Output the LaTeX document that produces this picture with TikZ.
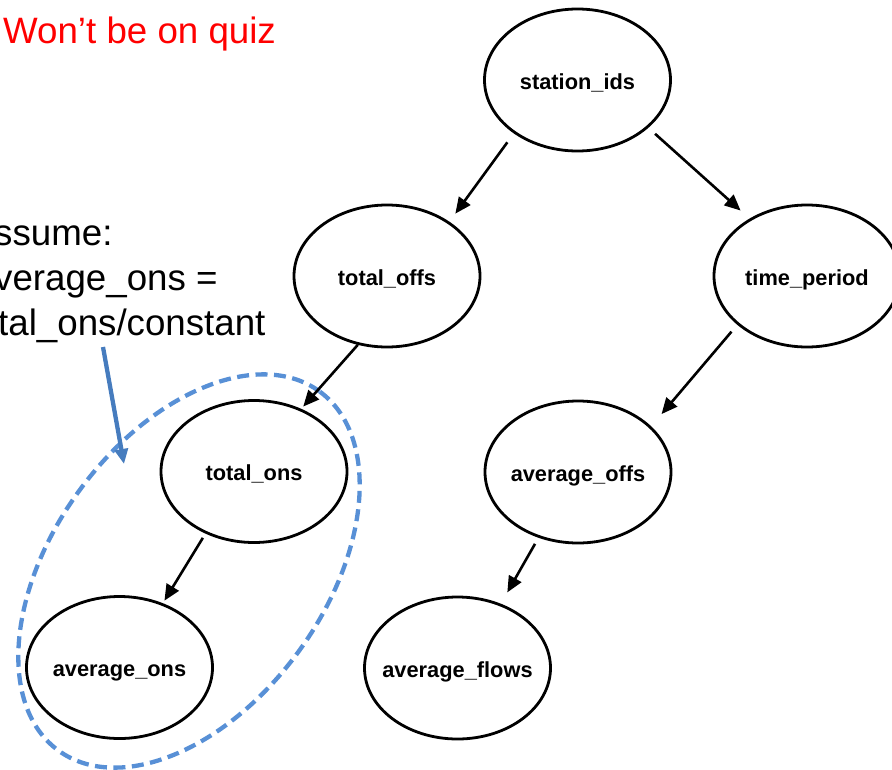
\documentclass[tikz,border=0pt]{standalone}
\usepackage{fontspec}
\setmainfont{Liberation Sans}
\usetikzlibrary{arrows.meta,shapes.geometric}
\definecolor{grpblue}{RGB}{88,144,214}
\definecolor{noteblue}{RGB}{70,124,190}
\definecolor{quizred}{RGB}{255,0,0}
% zero-width label so every ellipse keeps the same size
\newcommand{\varlabel}[1]{\makebox[0pt][c]{#1}}
\begin{document}
\begin{tikzpicture}[x=1pt,y=-1pt,
  var/.style={ellipse, draw, line width=2.8pt, minimum width=186pt,
    minimum height=142pt, inner sep=0pt,
    font=\fontsize{21.8}{26}\selectfont\bfseries,
    text height=22pt, text depth=4pt},
  dep/.style={-{Triangle[length=16pt,width=14pt]}, line width=2.6pt},
  grouping/.style={ellipse, draw=grpblue, line width=4.3pt,
    dash pattern=on 12pt off 6.5pt, inner sep=0pt},
  callout/.style={-{Triangle[length=15pt,width=13pt]}, draw=noteblue,
    line width=4.3pt},
  note/.style={anchor=base west, inner sep=0pt,
    font=\fontsize{36.7}{44}\selectfont}
]
\useasboundingbox (0,0) rectangle (892,769);

% dashed group around the two "ons" variables
\node[grouping, rotate=54, minimum width=444pt, minimum height=272pt]
  (grp) at (189,571) {};

% variables
\node[var] (station) at (577.5,80)    {\varlabel{station\_ids}};
\node[var] (toffs)   at (387,276)     {\varlabel{total\_offs}};
\node[var] (tperiod) at (807,276)     {\varlabel{time\_period}};
\node[var] (tons)    at (254,471.5)   {\varlabel{total\_ons}};
\node[var] (aoffs)   at (578,472)     {\varlabel{average\_offs}};
\node[var] (aons)    at (119.5,667.5) {\varlabel{average\_ons}};
\node[var] (aflows)  at (457.5,668)   {\varlabel{average\_flows}};

% dependencies
\draw[dep, shorten <=11pt, shorten >=10pt] (station.-140) -- (toffs.41);
\draw[dep, shorten <=9pt,  shorten >=12pt] (station.-34)  -- (tperiod.135);
\draw[dep, shorten <=0pt,  shorten >=3pt]  (toffs.-113)   -- (tons.53);
\draw[dep, shorten <=9pt,  shorten >=16pt] (tperiod.-145) -- (aoffs.32);
\draw[dep, shorten <=5pt,  shorten >=3pt]  (tons.-128)    -- (aons.56);
\draw[dep, shorten <=7pt,  shorten >=13pt] (aoffs.-121)   -- (aflows.56);

% annotations
\node[note, text=quizred] (quiz) at (3,43) {Won’t be on quiz};
\node[note] (assumeA) at (-6,245) {ssume:};
\node[note] (assumeB) at (-6,290) {verage\_ons =};
\node[note] (assumeC) at (-2,335) {tal\_ons/constant};

\coordinate (calloutTail) at (103,347);
\coordinate (calloutTip)  at (124,464);
\draw[callout] (calloutTail) -- (calloutTip);
\end{tikzpicture}
\end{document}
